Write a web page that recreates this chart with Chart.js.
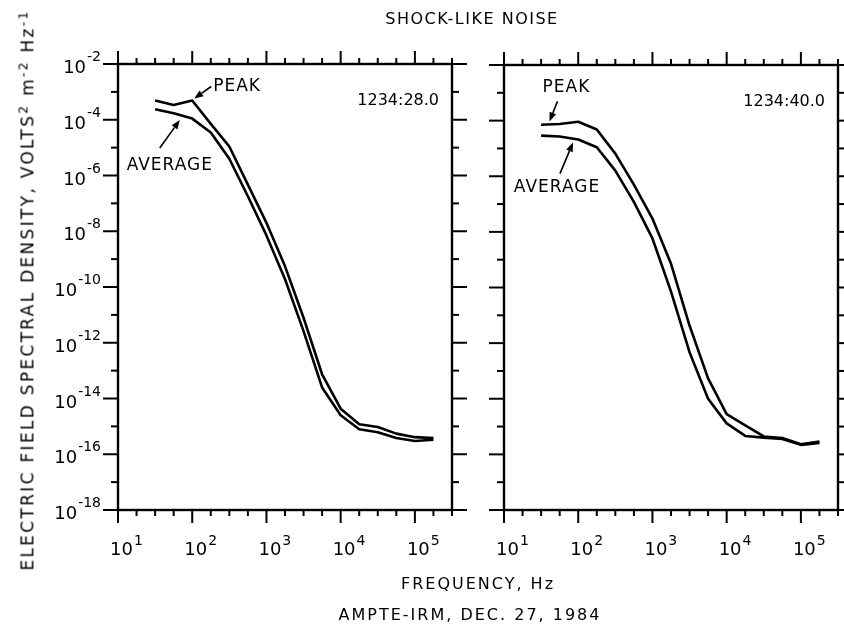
<!DOCTYPE html>
<html>
<head>
<meta charset="utf-8">
<script src="https://cdn.jsdelivr.net/npm/chart.js@4.4.1/dist/chart.umd.min.js"></script>
<style>
  html, body { margin: 0; padding: 0; background: #fff; }
  body { width: 844px; height: 628px; overflow: hidden; position: relative;
         font-family: "DejaVu Sans", "Liberation Sans", sans-serif; color: #000; }
  canvas { position: absolute; left: 0; top: 0; }
  .txt { position: absolute; white-space: nowrap; transform: translate(-50%, -50%); font-size: 16px; letter-spacing: 1.5px; }
  .sup { font-size: 0.72em; vertical-align: 0.5em; }
  #ytitle { transform: translate(-50%, -50%) rotate(-90deg); font-size: 17px; letter-spacing: 2.3px; }
</style>
</head>
<body>
<canvas id="panelA" width="844" height="628"></canvas>
<canvas id="panelB" width="844" height="628"></canvas>

<div class="txt" style="left:472px; top:18px;">SHOCK-LIKE NOISE</div>
<div class="txt" style="left:478px; top:583px; letter-spacing:2px;">FREQUENCY, Hz</div>
<div class="txt" style="left:470px; top:614px; letter-spacing:2px;">AMPTE-IRM, DEC. 27, 1984</div>
<div class="txt" id="ytitle" style="left:27px; top:290px;">ELECTRIC FIELD SPECTRAL DENSITY, VOLTS<span class="sup">2</span> m<span class="sup">-2</span> Hz<span class="sup">-1</span></div>

<script>
// Frequencies (Hz), quarter-decade spacing
const FREQ = [31.6, 56.2, 100, 178, 316, 562, 1000, 1780, 3160, 5620,
              10000, 17800, 31600, 56200, 100000, 178000];

// Spectral density (V^2 m^-2 Hz^-1), interval 1234:28.0
const PEAK_2828 = [4.9e-4, 3.4e-4, 4.9e-4, 7.1e-5, 1.1e-5, 4.7e-7, 2.0e-8, 5.5e-10,
                   7.9e-12, 7.4e-14, 4.3e-15, 1.2e-15, 9.5e-16, 5.5e-16, 4.1e-16, 3.8e-16];
const AVG_2828  = [2.4e-4, 1.7e-4, 1.1e-4, 3.5e-5, 4.0e-6, 1.8e-7, 7.1e-9, 1.9e-10,
                   2.6e-12, 2.5e-14, 2.5e-15, 7.9e-16, 6.2e-16, 3.8e-16, 3.0e-16, 3.3e-16];

// Spectral density (V^2 m^-2 Hz^-1), interval 1234:40.0
const PEAK_2840 = [7.1e-5, 7.6e-5, 9.1e-5, 4.8e-5, 6.5e-6, 5.0e-7, 3.0e-8, 7.1e-10,
                   4.3e-12, 5.4e-14, 2.8e-15, 1.1e-15, 4.4e-16, 3.9e-16, 2.3e-16, 2.9e-16];
const AVG_2840  = [2.9e-5, 2.7e-5, 2.1e-5, 1.1e-5, 1.6e-6, 1.2e-7, 5.8e-9, 7.1e-11,
                   4.7e-13, 1.0e-14, 1.3e-15, 4.6e-16, 4.0e-16, 3.6e-16, 2.2e-16, 2.6e-16];

// Axis decades
const X_LABEL_EXP = [1, 2, 3, 4, 5];
const Y_LABEL_EXP = [-2, -4, -6, -8, -10, -12, -14, -16, -18];
const X_MIN_EXP = 1, X_MAX_EXP = 5.5;
const Y_MIN_EXP = -18, Y_MAX_EXP = -2;

const PANEL_TIMES = ['1234:28.0', '1234:40.0'];
const SERIES_NAMES = ['PEAK', 'AVERAGE'];

const FONT = '"DejaVu Sans", "Liberation Sans", sans-serif';

function seg(ctx, x1, y1, x2, y2) {
  ctx.beginPath(); ctx.moveTo(x1, y1); ctx.lineTo(x2, y2); ctx.stroke();
}

function arrow(ctx, x1, y1, x2, y2) {
  ctx.save();
  ctx.lineWidth = 1.6;
  const ang = Math.atan2(y2 - y1, x2 - x1);
  const hl = 9, hw = 3.5;
  const bx = x2 - hl * Math.cos(ang), by = y2 - hl * Math.sin(ang);
  seg(ctx, x1, y1, bx, by);
  ctx.beginPath();
  ctx.moveTo(x2, y2);
  ctx.lineTo(bx + hw * Math.sin(ang), by - hw * Math.cos(ang));
  ctx.lineTo(bx - hw * Math.sin(ang), by + hw * Math.cos(ang));
  ctx.closePath(); ctx.fill();
  ctx.restore();
}

// "10" with a raised exponent; anchor: 'right' (right edge at x) or 'tick' (base starts just left of x)
function powerLabel(ctx, exp, x, yBase, ySup, anchor) {
  const baseFont = '18px ' + FONT, supFont = '14px ' + FONT;
  ctx.font = baseFont; const wb = ctx.measureText('10').width;
  ctx.font = supFont; const ws = ctx.measureText(String(exp)).width;
  let x0 = anchor === 'right' ? x - wb - ws - 1 : x - 8;
  ctx.textAlign = 'left'; ctx.textBaseline = 'alphabetic';
  ctx.font = baseFont; ctx.fillText('10', x0, yBase);
  ctx.font = supFont; ctx.fillText(String(exp), x0 + wb + 1, ySup);
}

// Frame, quarter-decade ticks, decade labels and annotations
const logFrame = {
  id: 'logFrame',
  afterDatasetsDraw(chart, args, opts) {
    const { ctx, chartArea: a, scales: { x, y } } = chart;
    ctx.save();
    ctx.strokeStyle = '#000'; ctx.fillStyle = '#000';
    ctx.lineCap = 'square';
    ctx.lineWidth = 2.4;
    ctx.strokeRect(a.left, a.top, a.right - a.left, a.bottom - a.top);
    ctx.lineCap = 'butt';
    ctx.lineWidth = 2;
    for (let q = X_MIN_EXP * 4; q <= X_MAX_EXP * 4; q++) {
      const px = x.getPixelForValue(Math.pow(10, q / 4));
      const len = q % 4 === 0 ? 13 : 6;
      seg(ctx, px, a.bottom, px, a.bottom + len);
      seg(ctx, px, a.top, px, a.top - len);
    }
    for (let e = Y_MIN_EXP; e <= Y_MAX_EXP; e++) {
      const py = y.getPixelForValue(Math.pow(10, e));
      const len = e % 2 === 0 ? 15 : 7;
      seg(ctx, a.left - len, py, a.left, py);
      seg(ctx, a.right, py, a.right + len, py);
    }
    X_LABEL_EXP.forEach(e => {
      const px = x.getPixelForValue(Math.pow(10, e));
      powerLabel(ctx, e, px, a.bottom + 45, a.bottom + 35, 'tick');
    });
    if (opts.yLabels) {
      Y_LABEL_EXP.forEach(e => {
        const py = y.getPixelForValue(Math.pow(10, e));
        powerLabel(ctx, e, a.left - 17, py + 9, py - 3, 'right');
      });
    }
    // interval time
    ctx.font = '16px ' + FONT; ctx.textAlign = 'right'; ctx.textBaseline = 'middle';
    ctx.fillText(opts.time, a.right - 13, a.top + 37);
    // series callouts, tied to points on the curves
    (opts.notes || []).forEach(n => {
      const xv = n.freq;
      const ds = chart.data.datasets[n.ds].data;
      // curve height at the callout frequency (log-log interpolation)
      let i = 0; while (i < ds.length - 2 && ds[i + 1].x < xv) i++;
      const t = (Math.log10(xv) - Math.log10(ds[i].x)) / (Math.log10(ds[i + 1].x) - Math.log10(ds[i].x));
      const lv = Math.log10(ds[i].y) + t * (Math.log10(ds[i + 1].y) - Math.log10(ds[i].y));
      const tx = x.getPixelForValue(xv) + n.tip[0];
      const ty = y.getPixelForValue(Math.pow(10, lv)) + n.tip[1];
      arrow(ctx, tx + n.tail[0], ty + n.tail[1], tx, ty);
      ctx.font = '17px ' + FONT; ctx.textBaseline = 'middle';
      ctx.textAlign = n.align;
      ctx.letterSpacing = '1px';
      ctx.fillText(SERIES_NAMES[n.ds], tx + n.text[0], ty + n.text[1]);
      ctx.letterSpacing = '0px';
    });
    ctx.restore();
  }
};

function panel(id, peak, avg, area, extra) {
  const pts = arr => FREQ.map((f, i) => ({ x: f, y: arr[i] }));
  const line = data => ({ data, borderColor: '#000', borderWidth: 2.6, pointRadius: 0,
                          tension: 0, fill: false, borderJoinStyle: 'round' });
  return new Chart(document.getElementById(id), {
    type: 'line',
    data: { datasets: [line(pts(peak)), line(pts(avg))] },
    options: {
      responsive: false, animation: false, events: [],
      layout: { padding: { left: area.l, top: area.t, right: 844 - area.r, bottom: 628 - area.b } },
      scales: {
        x: { type: 'logarithmic', min: Math.pow(10, X_MIN_EXP), max: Math.pow(10, X_MAX_EXP), display: false },
        y: { type: 'logarithmic', min: Math.pow(10, Y_MIN_EXP), max: Math.pow(10, Y_MAX_EXP), display: false }
      },
      plugins: { legend: { display: false }, tooltip: { enabled: false }, logFrame: extra }
    },
    plugins: [logFrame]
  });
}

panel('panelA', PEAK_2828, AVG_2828, { l: 118, t: 64, r: 452, b: 510 }, {
  yLabels: true, time: PANEL_TIMES[0],
  notes: [
    { ds: 0, freq: 100, tip: [2, -2], tail: [17, -12], text: [19, -12], align: 'left' },
    { ds: 1, freq: 68, tip: [0, 5], tail: [-20, 28], text: [-10, 46], align: 'center' }
  ]
});

panel('panelB', PEAK_2840, AVG_2840, { l: 504, t: 65, r: 838, b: 510 }, {
  yLabels: false, time: PANEL_TIMES[1],
  notes: [
    { ds: 0, freq: 41, tip: [0, -3], tail: [8, -20], text: [17, -34], align: 'center' },
    { ds: 1, freq: 85, tip: [0, 4], tail: [-13, 31], text: [-16, 45], align: 'center' }
  ]
});
</script>
</body>
</html>
